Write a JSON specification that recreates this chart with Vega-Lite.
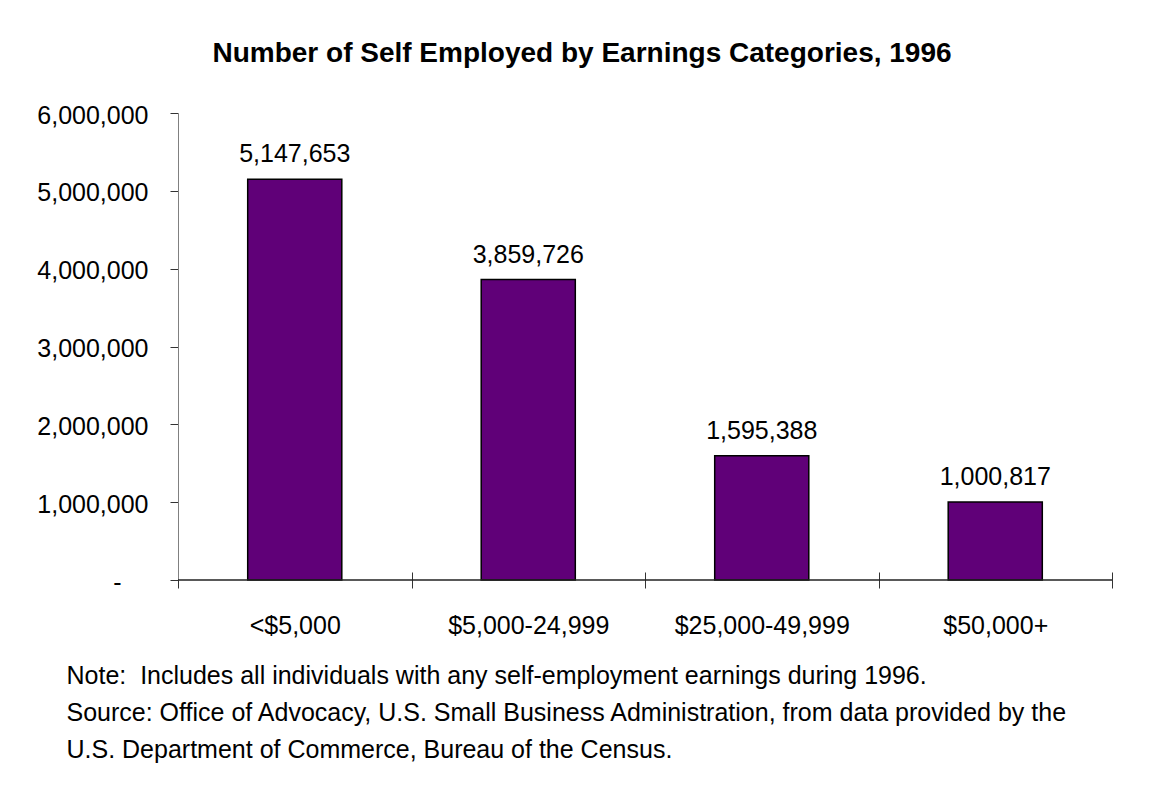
{
  "$schema": "https://vega.github.io/schema/vega-lite/v6.json",
  "width": 934,
  "height": 467,
  "autosize": {"type": "none"},
  "padding": {"left": 178, "top": 113, "right": 41, "bottom": 230},
  "background": "white",
  "config": {"font": "Liberation Sans", "view": {"stroke": null}},
  "title": {
    "text": "Number of Self Employed by Earnings Categories, 1996",
    "fontSize": 28,
    "fontWeight": "bold",
    "anchor": "middle",
    "dx": -63,
    "offset": 35,
    "color": "black"
  },
  "data": {
    "values": [
      {"category": "<$5,000", "value": 5147653},
      {"category": "$5,000-24,999", "value": 3859726},
      {"category": "$25,000-49,999", "value": 1595388},
      {"category": "$50,000+", "value": 1000817}
    ]
  },
  "layer": [
    {
      "mark": {"type": "bar", "fill": "#600078", "stroke": "black", "strokeWidth": 1.5, "width": {"band": 0.403}},
      "encoding": {
        "x": {
          "field": "category",
          "type": "nominal",
          "sort": null,
          "scale": {"paddingInner": 0, "paddingOuter": 0},
          "axis": {
            "title": [
              "Note:\u00a0 Includes all individuals with any self-employment earnings during 1996.",
              "Source: Office of Advocacy, U.S. Small Business Administration, from data provided by the",
              "U.S. Department of Commerce, Bureau of the Census."
            ],
            "titleFontSize": 25,
            "titleFontWeight": "normal",
            "titleAlign": "left",
            "titleAnchor": "start",
            "titleBaseline": "alphabetic",
            "titleX": -112,
            "titleY": 111,
            "titleLineHeight": 37,
            "titleColor": "black",
            "labelAngle": 0,
            "labelFontSize": 25,
            "labelColor": "black",
            "labelPadding": 25,
            "tickBand": "extent",
            "tickSize": 16,
            "tickColor": "#333333",
            "offset": -8,
            "domain": false
          }
        },
        "y": {
          "field": "value",
          "type": "quantitative",
          "scale": {"domain": [0, 6000000]},
          "axis": {
            "title": null,
            "values": [0, 1000000, 2000000, 3000000, 4000000, 5000000, 6000000],
            "labelExpr": "datum.value === 0 ? '-' : format(datum.value, ',')",
            "labelFontSize": 25,
            "labelColor": "black",
            "labelPadding": {"condition": {"test": "datum.value === 0", "value": 49}, "value": 22},
            "labelOffset": 2,
            "tickSize": 8,
            "tickColor": "#333333",
            "domainColor": "#808080",
            "grid": false
          }
        }
      }
    },
    {
      "mark": {"type": "text", "dy": -17, "baseline": "alphabetic", "fontSize": 25, "color": "black"},
      "encoding": {
        "x": {"field": "category", "type": "nominal", "sort": null},
        "y": {"field": "value", "type": "quantitative"},
        "text": {"field": "value", "format": ","}
      }
    },
    {
      "data": {"values": [{}]},
      "mark": {"type": "rule", "color": "#222222", "strokeWidth": 1.5},
      "encoding": {"y": {"datum": 0}}
    }
  ]
}
